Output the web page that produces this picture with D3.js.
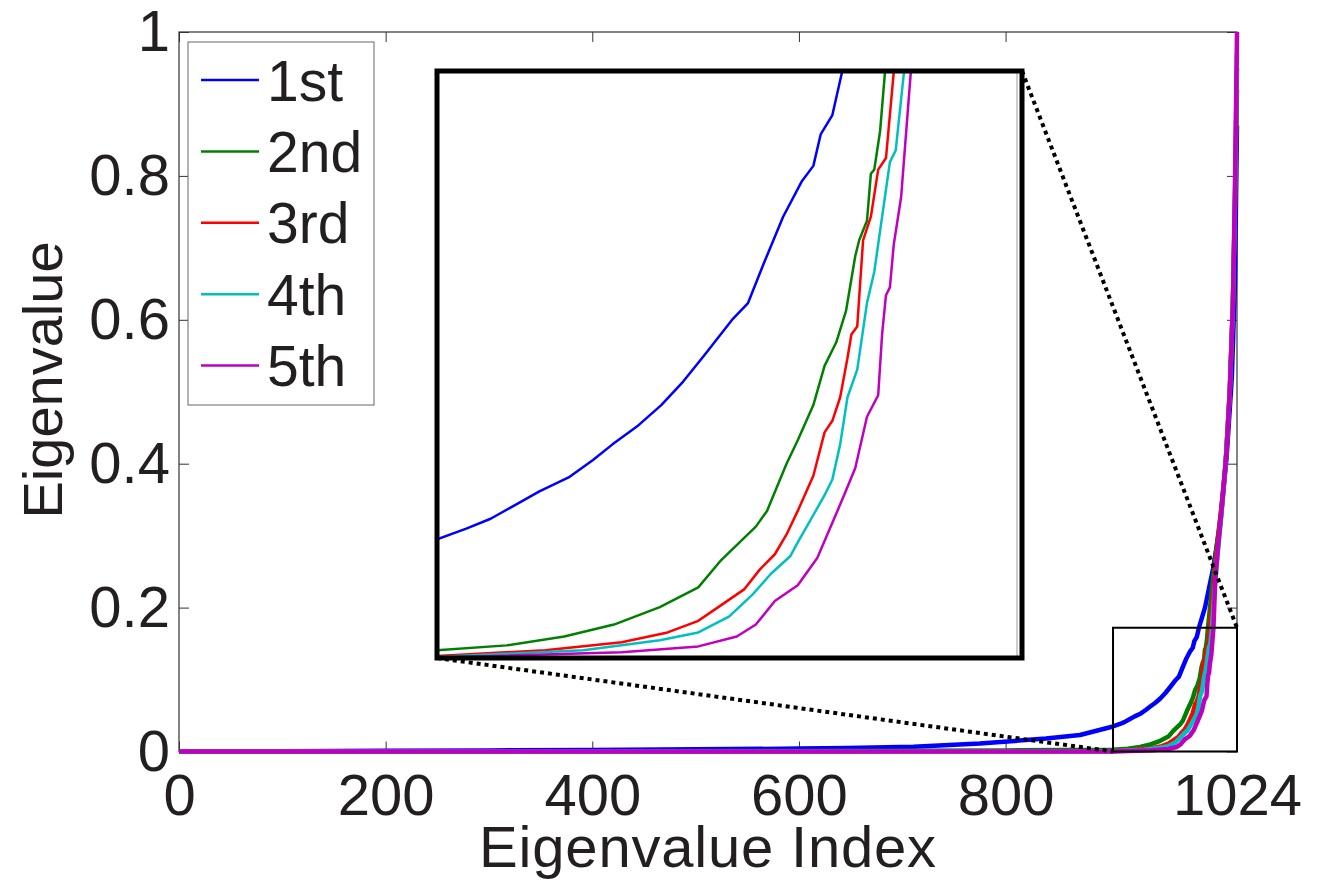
<!DOCTYPE html>
<html>
<head>
<meta charset="utf-8">
<script src="https://cdn.jsdelivr.net/npm/d3@7"></script>
<style>
  body { margin: 0; background: #fff; }
  text { font-family: "Liberation Sans", Arial, Helvetica, sans-serif; fill: #231f20; }
</style>
</head>
<body>
<svg id="chart" width="1328" height="880"></svg>
<script>
// [eigenvalue index, eigenvalue]
const first = [[0,0],[100,0.0005],[200,0.001],[300,0.0015],[400,0.002],[500,0.003],[600,0.004],[646,0.005],[711,0.0067],[775,0.011],[839,0.018],[872,0.023],
  [904,0.0348],[910,0.0379],[915,0.0408],[920,0.0448],[925,0.0488],[931,0.0529],[936,0.058],[940,0.0626],[945,0.0678],[950,0.0741],[954.5,0.081],[959,0.089],
  [964.7,0.0994],[967.8,0.104],[971,0.1155],[975,0.1293],[978.8,0.1396],[981.2,0.1442],[982.7,0.1534],[985.1,0.1591],[987.1,0.1718],
  [993,0.2],[1001,0.255],[1008,0.32],[1014,0.41],[1019,0.52],[1022,0.65],[1024,0.87]];
const second = [[0,0],[400,0.0004],[600,0.0008],[800,0.0015],
  [904,0.0023],[918.3,0.0037],[930.1,0.0063],[940.3,0.0098],[949.7,0.0149],[957.6,0.0207],[962.3,0.0287],[969.4,0.0385],[971.7,0.0431],[975.7,0.0569],
  [978,0.0638],[981.2,0.0741],[983.5,0.0856],[985.9,0.0925],[987.9,0.1017],[989.8,0.1178],[990.6,0.1224],[992.2,0.1281],[993,0.1419],[993.7,0.1431],
  [994.9,0.1545],[995.9,0.1718],
  [1000,0.23],[1004,0.28],[1009,0.34],[1013,0.4],[1017,0.5],[1020,0.62],[1022,0.75],[1024,0.92]];
const third = [[0,0],[600,0.0003],[800,0.0004],
  [904,0.0006],[926.2,0.0023],[941.9,0.0046],[951.3,0.0075],[957.6,0.0109],[962.3,0.0155],[967,0.0201],[970.2,0.0259],[973.3,0.0304],[975.7,0.0362],
  [978,0.0431],[981.2,0.0534],[983.5,0.0661],[985.1,0.0695],[986.7,0.0764],[988.2,0.0879],[989,0.0948],[990.2,0.0971],[991.4,0.1224],[993,0.1293],
  [994.5,0.1431],[996.1,0.1465],[997.7,0.1718],
  [1001,0.22],[1004,0.27],[1009,0.34],[1013,0.4],[1017,0.5],[1020,0.62],[1022,0.76],[1024,0.95]];
const fourth = [[0,0],[600,0.0002],[800,0.0003],
  [904,0.0003],[934,0.0023],[949.7,0.0052],[957.6,0.0075],[963.9,0.0121],[968.6,0.0184],[972.5,0.0247],[976.5,0.0299],[978,0.0339],[981.2,0.0419],
  [983.5,0.0477],[985.1,0.0523],[986.7,0.0626],[988.2,0.0764],[990.2,0.0845],[992.2,0.104],[993.7,0.1132],[996.9,0.1453],[998.1,0.1488],[999.8,0.1718],
  [1002,0.22],[1005,0.27],[1009,0.33],[1013,0.4],[1017,0.5],[1020,0.62],[1022,0.77],[1024,0.97]];
const fifth = [[0,0],[600,0.0001],[800,0.0001],
  [904,0.0001],[941.9,0.0017],[957.6,0.0034],[965.5,0.0063],[969.4,0.0098],[973.3,0.0167],[978,0.0213],[982,0.0293],[985.1,0.0396],[987.5,0.0477],
  [989.8,0.0557],[992.2,0.0707],[994.5,0.077],[995.3,0.0948],[996.1,0.1063],[996.9,0.1086],[997.7,0.1212],[999.2,0.135],[1001.2,0.1718],
  [1003,0.24],[1006,0.29],[1010,0.35],[1014,0.42],[1017,0.5],[1020,0.62],[1022,0.78],[1024,1.0]];

const seriesNames = ["1st", "2nd", "3rd", "4th", "5th"];
const seriesColors = ["#0000ff", "#008000", "#ff0000", "#00bfbf", "#bf00bf"];
const xTicks = [0, 200, 400, 600, 800, 1024];
const yTicks = [0, 0.2, 0.4, 0.6, 0.8, 1];
const zoomX = [904, 1024];
const zoomY = [0, 0.172];

const allSeries = [first, second, third, fourth, fifth];

const svg = d3.select("#chart");
const plot = { left: 179, right: 1237, top: 32, bottom: 751.5 };

const x = d3.scaleLinear().domain([0, 1024]).range([plot.left, plot.right]);
const y = d3.scaleLinear().domain([0, 1]).range([plot.bottom, plot.top]);

// axes, ticks pointing inward like matlab
const styleAxis = g => {
  g.select(".domain").remove();
  g.selectAll(".tick line").attr("stroke", "#333").attr("stroke-width", 1);
  g.selectAll(".tick text").style("font-size", "58px").attr("fill", "#231f20");
};

svg.append("g")
  .attr("transform", `translate(0,${plot.bottom})`)
  .call(d3.axisBottom(x).tickValues(xTicks).tickFormat(d3.format("d")).tickSize(-10).tickPadding(22))
  .call(styleAxis);
svg.append("g")
  .attr("transform", `translate(0,${plot.top})`)
  .call(d3.axisTop(x).tickValues(xTicks).tickFormat("").tickSize(-10))
  .call(styleAxis);
svg.append("g")
  .attr("transform", `translate(${plot.left},0)`)
  .call(d3.axisLeft(y).tickValues(yTicks).tickFormat(d => d === 0 || d === 1 ? d3.format("d")(d) : d3.format(".1f")(d)).tickSize(-10).tickPadding(9))
  .call(styleAxis);
svg.append("g")
  .attr("transform", `translate(${plot.right},0)`)
  .call(d3.axisRight(y).tickValues(yTicks).tickFormat("").tickSize(-10))
  .call(styleAxis);

svg.append("rect")
  .attr("x", plot.left).attr("y", plot.top)
  .attr("width", plot.right - plot.left).attr("height", plot.bottom - plot.top)
  .attr("fill", "none").attr("stroke", "#333").attr("stroke-width", 1.2);

// main curves
const line = d3.line().x(d => x(d[0])).y(d => y(d[1]));
allSeries.forEach((s, i) => {
  svg.append("path")
    .datum(s)
    .attr("fill", "none")
    .attr("stroke", seriesColors[i])
    .attr("stroke-width", 4.5)
    .attr("stroke-linejoin", "round")
    .attr("d", line);
});

// zoom box
svg.append("rect")
  .attr("x", x(zoomX[0])).attr("y", y(zoomY[1]))
  .attr("width", x(zoomX[1]) - x(zoomX[0])).attr("height", y(zoomY[0]) - y(zoomY[1]))
  .attr("fill", "none").attr("stroke", "#000").attr("stroke-width", 2);

// inset
const inset = { left: 437, right: 1022, top: 71, bottom: 658 };
const xi = d3.scaleLinear().domain(zoomX).range([inset.left, inset.right]);
const yi = d3.scaleLinear().domain(zoomY).range([inset.bottom, inset.top]);

svg.append("clipPath").attr("id", "insetClip")
  .append("rect")
  .attr("x", inset.left).attr("y", inset.top)
  .attr("width", inset.right - inset.left).attr("height", inset.bottom - inset.top);

svg.append("rect")
  .attr("x", inset.left).attr("y", inset.top)
  .attr("width", inset.right - inset.left).attr("height", inset.bottom - inset.top)
  .attr("fill", "#fff");

svg.append("line")
  .attr("x1", 1017).attr("x2", 1017).attr("y1", inset.top).attr("y2", inset.bottom)
  .attr("stroke", "#999").attr("stroke-width", 1);

const insetLine = d3.line().x(d => xi(d[0])).y(d => yi(d[1]));
const insetG = svg.append("g").attr("clip-path", "url(#insetClip)");
allSeries.forEach((s, i) => {
  insetG.append("path")
    .datum(s)
    .attr("fill", "none")
    .attr("stroke", seriesColors[i])
    .attr("stroke-width", 2.5)
    .attr("stroke-linejoin", "round")
    .attr("d", insetLine);
});

svg.append("rect")
  .attr("x", inset.left).attr("y", inset.top)
  .attr("width", inset.right - inset.left).attr("height", inset.bottom - inset.top)
  .attr("fill", "none").attr("stroke", "#000").attr("stroke-width", 5);

// dotted connectors
const dotted = [
  [[inset.right, inset.top], [x(zoomX[1]), y(zoomY[1])]],
  [[inset.left, inset.bottom], [x(zoomX[0]), y(zoomY[0])]]
];
dotted.forEach(p => {
  svg.append("line")
    .attr("x1", p[0][0]).attr("y1", p[0][1])
    .attr("x2", p[1][0]).attr("y2", p[1][1])
    .attr("stroke", "#000").attr("stroke-width", 4)
    .attr("stroke-dasharray", "4,4");
});

// legend
const legend = svg.append("g");
legend.append("rect")
  .attr("x", 188).attr("y", 42).attr("width", 186).attr("height", 363)
  .attr("fill", "#fff").attr("stroke", "#666").attr("stroke-width", 1);
seriesNames.forEach((name, i) => {
  const ry = 80 + i * 71.4;
  legend.append("line")
    .attr("x1", 201).attr("x2", 259).attr("y1", ry).attr("y2", ry)
    .attr("stroke", seriesColors[i]).attr("stroke-width", 2.5);
  legend.append("text")
    .attr("x", 267).attr("y", ry + 20.5)
    .style("font-size", "57px")
    .text(name);
});

// axis titles
svg.append("text")
  .attr("x", (plot.left + plot.right) / 2).attr("y", 867)
  .attr("text-anchor", "middle")
  .style("font-size", "58px")
  .style("letter-spacing", "0.8px")
  .text("Eigenvalue Index");
svg.append("text")
  .attr("transform", "translate(62,380) rotate(-90)")
  .attr("text-anchor", "middle")
  .style("font-size", "56px")
  .text("Eigenvalue");
</script>
</body>
</html>
